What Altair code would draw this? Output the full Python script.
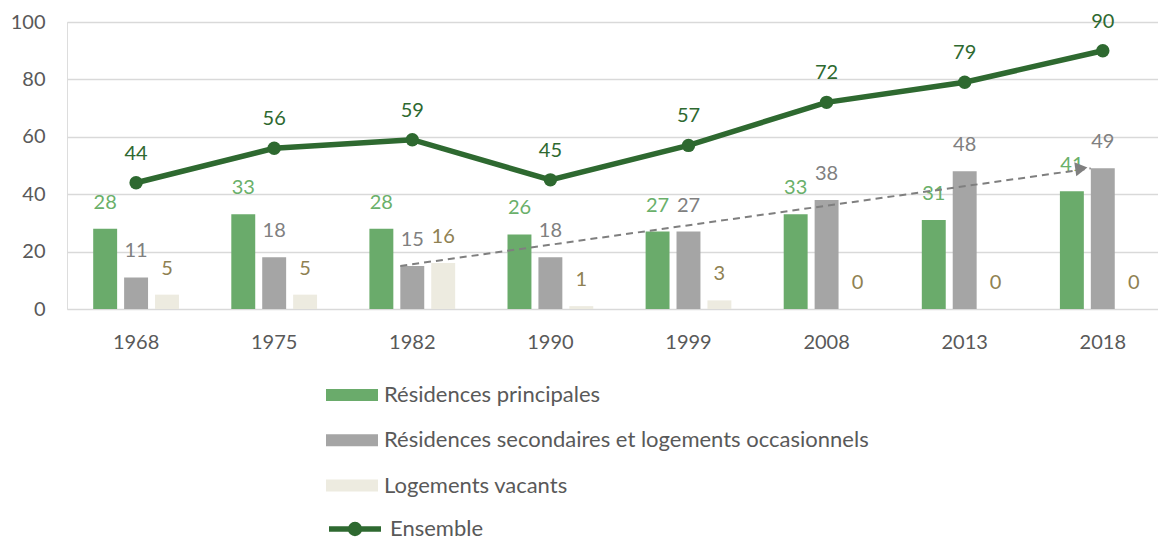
import altair as alt
import pandas as pd

years = ["1968", "1975", "1982", "1990", "1999", "2008", "2013", "2018"]
principales = [28, 33, 28, 26, 27, 33, 31, 41]
secondaires = [11, 18, 15, 18, 27, 38, 48, 49]
vacants = [5, 5, 16, 1, 3, 0, 0, 0]
ensemble = [44, 56, 59, 45, 57, 72, 79, 90]
series_names = ["Résidences principales",
                "Résidences secondaires et logements occasionnels",
                "Logements vacants"]
line_name = "Ensemble"
trend_years = ["1982", "2018"]
trend_values = [15, 49]

bar_colors = ["#6AAB6B", "#A5A5A5", "#EDEBE0"]
label_colors = ["#6AB06A", "#808080", "#8F8152"]
dark = "#2E6930"
FONT = "Lato"
FS = 20
LFS = 22

rows = []
for s, vals in zip(series_names, [principales, secondaires, vacants]):
    for y, v in zip(years, vals):
        rows.append({"year": y, "series": s, "value": v})
bars_df = pd.DataFrame(rows)
line_df = pd.DataFrame({"year": years, "value": ensemble, "name": line_name})
trend_df = pd.DataFrame({"year": trend_years, "value": trend_values})
arrow_df = trend_df.tail(1)

xscale = alt.Scale(paddingInner=0.379, paddingOuter=0.1395, align=0.68)
x = alt.X("year:N", sort=years, scale=xscale,
          axis=alt.Axis(title=None, labelAngle=0, domain=False, ticks=False,
                        labelPadding=23, labelFontSize=FS, labelFont=FONT,
                        labelColor="#595959", grid=False))
y = alt.Y("value:Q", scale=alt.Scale(domain=[0, 100]),
          axis=alt.Axis(title=None, values=[0, 20, 40, 60, 80, 100], domain=False,
                        ticks=False, labelPadding=22, labelFontSize=FS, labelFont=FONT,
                        labelColor="#595959", gridColor="#D9D9D9", gridWidth=1.5))
xoff = alt.XOffset("series:N", sort=series_names,
                   scale=alt.Scale(domain=series_names, paddingInner=0.226, paddingOuter=0))

bars = alt.Chart(bars_df).mark_bar().encode(
    x=x, y=y, xOffset=xoff,
    color=alt.Color("series:N", sort=series_names,
                    scale=alt.Scale(domain=series_names, range=bar_colors),
                    legend=alt.Legend(orient="none", legendX=259, legendY=347, title=None,
                                      direction="vertical",
                                      symbolType="M-1,-0.23H1V0.23H-1Z", symbolSize=2704,
                                      symbolStrokeWidth=0, labelFontSize=LFS, labelFont=FONT,
                                      labelColor="#595959", labelOffset=6, rowPadding=8.3,
                                      labelLimit=700)),
)

bar_labels = []
for s, c in zip(series_names, label_colors):
    bar_labels.append(
        alt.Chart(bars_df).transform_filter(alt.datum.series == s)
        .mark_text(dy=-26, fontSize=FS, font=FONT, color=c)
        .encode(x=x, y=y, xOffset=xoff, text="value:Q")
    )

trend = alt.Chart(trend_df).mark_line(strokeDash=[7, 5], color="#7F7F7F", strokeWidth=2).encode(
    x=alt.X("year:N", sort=years, bandPosition=0.36), y=y)
arrow = alt.Chart(arrow_df).mark_point(shape="triangle-right", angle=352, filled=True,
                                       size=200, color="#7F7F7F", opacity=1).encode(
    x=alt.X("year:N", sort=years, bandPosition=0.25), y=y)

line = alt.Chart(line_df).mark_line(strokeWidth=5.5).encode(
    x=x, y=y,
    stroke=alt.Stroke("name:N", scale=alt.Scale(domain=[line_name], range=[dark]),
                      legend=alt.Legend(orient="none", legendX=259, legendY=478, title=None,
                                        symbolType="M-1,0H1M-0.17,0A0.17,0.17 0 1,0 0.17,0A0.17,0.17 0 1,0 -0.17,0",
                                        symbolSize=2704, symbolStrokeWidth=5.5,
                                        symbolFillColor=dark, symbolStrokeColor=dark,
                                        labelFontSize=LFS, labelFont=FONT, labelColor="#595959",
                                        labelOffset=6)),
)
points = alt.Chart(line_df).mark_point(filled=True, size=180, color=dark, opacity=1).encode(x=x, y=y)
line_labels = alt.Chart(line_df).mark_text(dy=-29, fontSize=FS, font=FONT, color=dark).encode(
    x=x, y=y, text="value:Q")

chart = alt.layer(bars, *bar_labels, trend, arrow, line, points, line_labels).properties(
    width=1091, height=287,
    autosize=alt.AutoSizeParams(type="none"),
    padding={"left": 59, "top": 14, "right": 0, "bottom": 231},
).configure_view(stroke=None).configure(background="white")

chart.save("out.html", embed_options={"renderer": "svg", "actions": False})
